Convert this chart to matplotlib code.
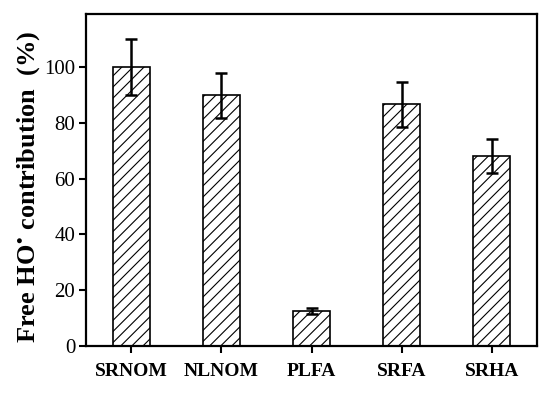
import numpy as np
import matplotlib.pyplot as plt

samples = ['SRNOM', 'NLNOM', 'PLFA', 'SRFA', 'SRHA']
contribution = [100.0, 89.8, 12.5, 86.6, 68.0]
errors = [10.0, 8.0, 1.0, 8.0, 6.0]

plt.rcParams['font.family'] = 'Liberation Serif'
plt.rcParams['mathtext.fontset'] = 'stix'
plt.rcParams['hatch.linewidth'] = 0.8

fig, ax = plt.subplots(figsize=(5.5, 3.98), dpi=100)
fig.subplots_adjust(left=0.157, right=0.976, top=0.965, bottom=0.131)

x = np.arange(len(samples))
ax.bar(x, contribution, width=0.41, color='white', edgecolor='black',
       linewidth=1.2, hatch='///')
ax.errorbar(x, contribution, yerr=errors, fmt='none', ecolor='black',
            elinewidth=1.8, capsize=4, capthick=1.8)

ax.set_xlim(-0.5, 4.5)
ax.set_ylim(0, 119)
ax.set_yticks([0, 20, 40, 60, 80, 100])
ax.set_xticks(x)
ax.set_xticklabels(samples, fontweight='bold', fontsize=14)
ax.tick_params(axis='y', labelsize=15, width=1.5, length=5, pad=3)
ax.tick_params(axis='x', width=1.5, length=5, pad=7)
for s in ax.spines.values():
    s.set_linewidth(1.6)

ax.set_ylabel(r'Free HO$^{\bullet}$ contribution  (%)', fontweight='bold',
              fontsize=19)
ax.yaxis.set_label_coords(-0.098, 0.48)

fig.savefig('out.png', dpi=100)
